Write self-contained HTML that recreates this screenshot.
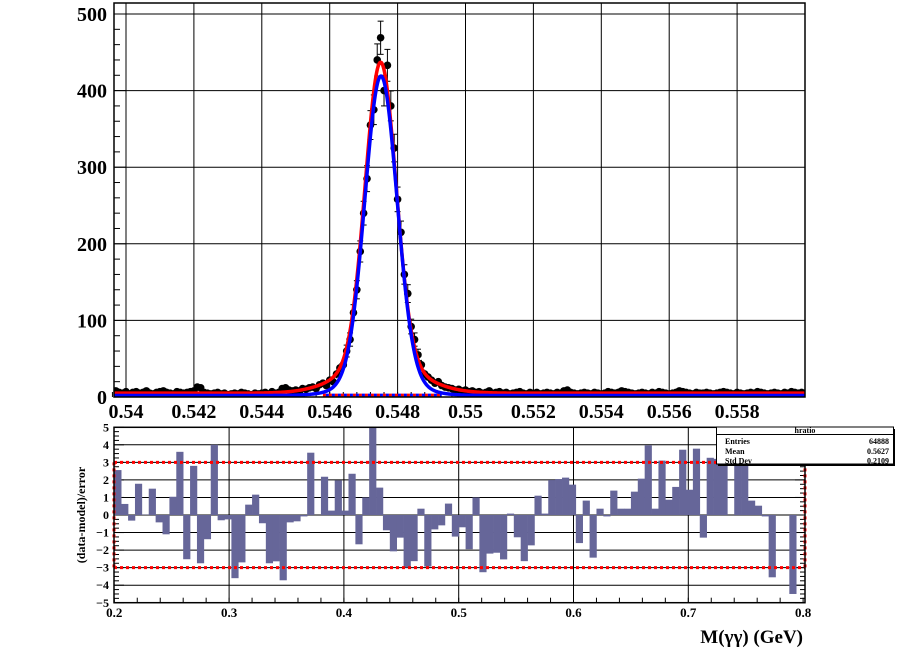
<!DOCTYPE html>
<html><head><meta charset="utf-8"><style>
html,body{margin:0;padding:0;background:#fff;}
svg{display:block;font-family:"Liberation Serif",serif;font-weight:bold;}
</style></head><body>
<svg id="c" width="918" height="664" viewBox="0 0 918 664" xmlns="http://www.w3.org/2000/svg"></svg>
<script>
// ---- data ----
const massStart = 0.5397, massStep = 0.0001;
const counts = [8,6,5,7,4,6,7,5,6,8,5,4,6,7,8,6,5,4,7,6,5,6,7,8,13,12,6,5,4,5,6,4,5,3,4,5,4,6,5,4,3,5,4,5,6,4,7,5,6,11,12,9,8,
9,8,11,10,12,13,11,16,18,15,22,20,30,38,42,60,75,110,140,190,240,285,355,375,440,469,400,433,380,325,258,215,160,135,92,75,55,42,30,26,22,18,20,15,13,12,11,9,10,8,
9,7,8,6,7,5,6,8,5,6,7,5,6,4,5,6,7,5,4,6,5,6,4,5,6,5,4,6,5,8,9,6,5,4,5,6,5,4,6,5,4,5,7,6,5,6,8,7,6,5,4,5,6,5,4,6,5,7,6,5,4,5,6,8,7,6,5,4,6,5,5,6,5,4,5,6,7,6,5,4,6,5,4,5,6,5,7,6,5,4,5,6,5,4,6,5,7,6,5,6,5];
const totalModel = {bkg:5, mean:0.54750, a1:392, s1:0.00045, a2:40, s2:0.0011};
const signalModel = {bkg:2, mean:0.54751, a1:395, s1:0.00047, a2:22, s2:0.0009};
const topXTicks = [0.54,0.542,0.544,0.546,0.548,0.55,0.552,0.554,0.556,0.558];
const topXLabels = ["0.54","0.542","0.544","0.546","0.548","0.55","0.552","0.554","0.556","0.558"];
const topYTicks = [0,100,200,300,400,500];
const resStart = 0.2, resStep = 0.006;
const residuals = [2.56,0.63,-0.32,1.78,0.02,1.5,-0.42,-1.1,1.04,3.6,-2.52,2.8,-2.75,-1.38,4.0,-0.3,-0.25,-3.6,-2.7,0.59,
1.16,-0.47,-2.75,-2.64,-3.72,-0.42,-0.36,-0.08,3.55,0.0,2.18,0.25,1.97,0.25,2.35,-1.67,1.0,5.2,1.56,-0.87,
-2.07,-1.29,-2.99,-2.63,0.36,-2.94,-0.82,-0.59,0.65,-1.23,-0.7,-1.95,1.0,-3.26,-2.2,-2.15,-2.53,0.08,-1.27,-2.63,
-1.73,1.1,0.08,1.99,2.05,2.13,1.73,-1.6,0.82,-2.43,0.36,-0.08,1.39,0.36,0.36,1.33,2.07,3.97,0.36,3.1,
0.87,1.6,3.72,1.44,3.78,-1.29,3.26,3.2,3.2,0.0,3.2,3.2,0.82,0.53,-0.08,-3.55,0,0,-4.5,0];
const botXTicks = [0.2,0.3,0.4,0.5,0.6,0.7,0.8];
const botYTicks = [-5,-4,-3,-2,-1,0,1,2,3,4,5];

// ---- axes ----
const T = {l:114, r:805, t:3, b:397};
const B = {l:114, r:805, t:427.3, b:602.7};
const tx = v => 126 + (v-0.54)*33950;
const ty = v => 397 - v*0.766;
const bx = v => 114.3 + (v-0.2)*1148;
const by = v => 515 - v*17.55;
const svg = document.getElementById('c');
const NS = 'http://www.w3.org/2000/svg';
function mk(tag, at, parent){ const e=document.createElementNS(NS,tag); for(const k in at) e.setAttribute(k,at[k]); (parent||svg).appendChild(e); return e; }

const defs = mk('defs',{});
const cp1 = mk('clipPath',{id:'ct'},defs); mk('rect',{x:T.l,y:T.t,width:T.r-T.l,height:T.b-T.t},cp1);
const cp2 = mk('clipPath',{id:'cb'},defs); mk('rect',{x:B.l,y:B.t,width:B.r-B.l,height:B.b-B.t},cp2);

// ---- top panel grid ----
const gTop = mk('g',{});


topXTicks.forEach(v=>mk('line',{x1:tx(v),x2:tx(v),y1:T.t,y2:T.b,stroke:'#000','stroke-width':1},gTop));
topYTicks.forEach(v=>{ if(v>0) mk('line',{x1:T.l,x2:T.r,y1:ty(v),y2:ty(v),stroke:'#000','stroke-width':1},gTop); });
for(let v=0; v<=510; v+=20){ const len = v%100===0?12:6; mk('line',{x1:T.l,x2:T.l+len,y1:ty(v),y2:ty(v),stroke:'#000'},gTop); }
for(let v=0.5396; v<=0.56; v+=0.0004){ mk('line',{x1:tx(v),x2:tx(v),y1:T.b,y2:T.b-5,stroke:'#000'},gTop); }
topYTicks.forEach(v=>{ const t=mk('text',{x:107,y:ty(v)+7,'text-anchor':'end','font-size':20},gTop); t.textContent=v;
   });
topXTicks.forEach((v,i)=>{ const t=mk('text',{x:tx(v),y:418,'text-anchor':'middle','font-size':20},gTop); t.textContent=topXLabels[i];
   });

// data points
const gPts = mk('g',{'clip-path':'url(#ct)'});


counts.forEach((n,i)=>{
  const x = tx(massStart + i*massStep), y = ty(n), e = Math.sqrt(n)*0.766;
  mk('line',{x1:x,x2:x,y1:y-e,y2:y+e,stroke:'#000','stroke-width':1},gPts);
  if(n>50){ mk('line',{x1:x-3,x2:x+3,y1:y-e,y2:y-e,stroke:'#000'},gPts); mk('line',{x1:x-3,x2:x+3,y1:y+e,y2:y+e,stroke:'#000'},gPts); }
  const c = mk('circle',{cx:x,cy:y,r:3.8,fill:'#000'},gPts);
  
  
});
function gauss(x,m,a,s){ return a*Math.exp(-(x-m)*(x-m)/(2*s*s)); }
function totalF(x){ const p=totalModel; return p.bkg+gauss(x,p.mean,p.a1,p.s1)+gauss(x,p.mean,p.a2,p.s2); }
function sigF(x){ const p=signalModel; return p.bkg+gauss(x,p.mean,p.a1,p.s1)+gauss(x,p.mean,p.a2,p.s2); }
function curve(f){ let d=''; for(let x=0.5396;x<=0.5601;x+=0.00002){ d+=(d?'L':'M')+tx(x).toFixed(2)+','+ty(f(x)).toFixed(2); } return d; }
const gC = mk('g',{'clip-path':'url(#ct)'});
const rl = mk('line',{x1:tx(0.5458),x2:tx(0.5493),y1:ty(2.5),y2:ty(2.5),stroke:'#f00','stroke-width':3,'stroke-dasharray':'3,3'},gC);
 
const bl = mk('line',{x1:tx(0.5458)+3,x2:tx(0.5493),y1:ty(2.5),y2:ty(2.5),stroke:'#00f','stroke-width':3,'stroke-dasharray':'3,3'},gC);
 
const rc = mk('path',{d:curve(totalF),fill:'none',stroke:'#f00','stroke-width':3.5},gC);
 
const bc = mk('path',{d:curve(sigF),fill:'none',stroke:'#00f','stroke-width':3.5},gC);
 
const f1 = mk('rect',{x:T.l,y:T.t,width:T.r-T.l,height:T.b-T.t,fill:'none',stroke:'#000','stroke-width':1.5});
 

// ---- bottom panel ----
const gB = mk('g',{});


botXTicks.forEach(v=>{ if(v>0.2&&v<0.8) mk('line',{x1:bx(v),x2:bx(v),y1:B.t,y2:B.b,stroke:'#000'},gB); });
botYTicks.forEach(v=>{ if(v>-5&&v<5) mk('line',{x1:B.l,x2:B.r,y1:by(v),y2:by(v),stroke:'#000'},gB); });
for(let v=-5; v<=5.01; v+=0.25){ const len = Math.abs(v-Math.round(v))<0.01?10:5; mk('line',{x1:B.l,x2:B.l+len,y1:by(v),y2:by(v),stroke:'#000'},gB); mk('line',{x1:B.r,x2:B.r-len,y1:by(v),y2:by(v),stroke:'#000'},gB); }
for(let v=0.2; v<=0.801; v+=0.02){ mk('line',{x1:bx(v),x2:bx(v),y1:B.b,y2:B.b-5,stroke:'#000'},gB); }
const gBars = mk('g',{'clip-path':'url(#cb)'});


residuals.forEach((v,i)=>{
  const x0 = bx(resStart+i*resStep), x1 = bx(resStart+(i+1)*resStep);
  const y0 = by(0), y1 = by(v);
  const r = mk('rect',{x:x0,y:Math.min(y0,y1),width:x1-x0+0.3,height:Math.abs(y1-y0),fill:'#666699'},gBars);
  
  
});
const gR = mk('g',{stroke:'#f00','stroke-width':3,'stroke-dasharray':'3,3',fill:'none'});


mk('line',{x1:B.l,x2:B.r,y1:by(3),y2:by(3)},gR);
mk('line',{x1:B.l,x2:B.r,y1:by(-3),y2:by(-3)},gR);
mk('line',{x1:B.l,x2:B.l,y1:by(3),y2:by(-3)},gR);
mk('line',{x1:B.r,x2:B.r,y1:by(3),y2:by(-3)},gR);
const f2 = mk('rect',{x:B.l,y:B.t,width:B.r-B.l,height:B.b-B.t,fill:'none',stroke:'#000','stroke-width':1.5});
 
botYTicks.forEach(v=>{ const t=mk('text',{x:109,y:by(v)+4,'text-anchor':'end','font-size':12},gB); t.textContent=(v<0?'\u2212'+(-v):v);
   });
botXTicks.forEach(v=>{ const t=mk('text',{x:bx(v),y:617,'text-anchor':'middle','font-size':13},gB); t.textContent=v.toFixed(1);
   });
const yl = mk('text',{x:0,y:0,'font-size':12,'text-anchor':'middle',transform:'translate(85,515) rotate(-90)'});
yl.textContent='(data-model)/error';
 
const xl = mk('text',{x:803,y:643,'font-size':19,'text-anchor':'end'});
xl.textContent='M(\u03b3\u03b3) (GeV)';
 

// stats box
const gS = mk('g',{});


mk('rect',{x:718,y:429,width:177,height:37,fill:'#000'},gS);
mk('rect',{x:716.5,y:427,width:177,height:37,fill:'#fff',stroke:'#000','stroke-width':1},gS);
mk('line',{x1:716.5,x2:893.5,y1:434.5,y2:434.5,stroke:'#000'},gS);
const st=mk('text',{x:805,y:433,'font-size':8,'text-anchor':'middle'},gS); st.textContent='hratio';
[['Entries','64888',444],['Mean','0.5627',454],['Std Dev','0.2109',463.5]].forEach(r=>{
  const a=mk('text',{x:725,y:r[2],'font-size':8},gS); a.textContent=r[0];
  const b=mk('text',{x:889,y:r[2],'font-size':8,'text-anchor':'end'},gS); b.textContent=r[1];
});
</script>
</body></html>
